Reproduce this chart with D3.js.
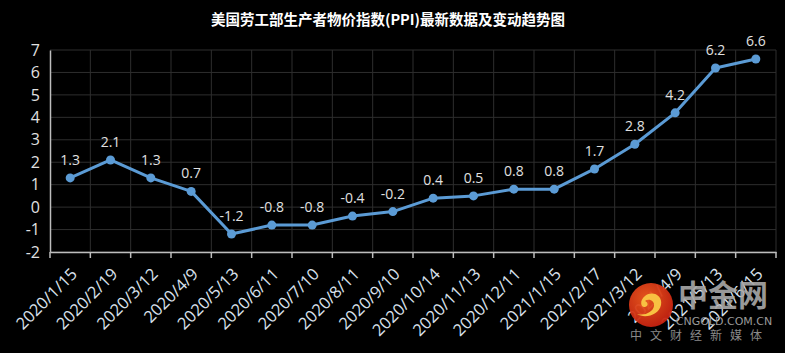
<!DOCTYPE html>
<html><head><meta charset="utf-8">
<script src="https://cdn.jsdelivr.net/npm/d3@7"></script>
<style>
html,body{margin:0;padding:0;background:#000;}
svg{display:block;}
</style></head>
<body>
<svg id="chart" width="785" height="353"></svg>
<script>
const title = "美国劳工部生产者物价指数(PPI)最新数据及变动趋势图";
const categories = ["2020/1/15","2020/2/19","2020/3/12","2020/4/9","2020/5/13","2020/6/11","2020/7/10","2020/8/11","2020/9/10","2020/10/14","2020/11/13","2020/12/11","2021/1/15","2021/2/17","2021/3/12","2021/4/9","2021/5/13","2021/6/15"];
const values = [1.3,2.1,1.3,0.7,-1.2,-0.8,-0.8,-0.4,-0.2,0.4,0.5,0.8,0.8,1.7,2.8,4.2,6.2,6.6];
const yTicks = [-2,-1,0,1,2,3,4,5,6,7];

const svg = d3.select("#chart");
svg.append("rect").attr("width",785).attr("height",353).attr("fill","#000");

const margin = {left:50, right:9, top:50, bottom:101};
const W = 785, H = 353;
const x = d3.scaleBand().domain(categories).range([margin.left, W - margin.right]).padding(0);
const y = d3.scaleLinear().domain([-2,7]).range([H - margin.bottom, margin.top]);

const font = "'Open Sans', 'Noto Sans', sans-serif";
const hy = s => String(s).replace("\u2212","-");

// title
svg.append("text").attr("x",388).attr("y",25).attr("text-anchor","middle")
  .attr("fill","#fff").attr("font-weight","bold").attr("font-size","14.5px")
  .attr("font-family","'Noto Sans CJK SC', sans-serif").text(title);

// grid
const g = svg.append("g");
g.selectAll(".hg").data(yTicks).enter().append("line")
  .attr("x1",margin.left).attr("x2",W-margin.right)
  .attr("y1",d=>y(d)).attr("y2",d=>y(d))
  .attr("stroke","#2e2e2e").attr("stroke-width",1);
const vb = categories.map(c=>x(c)).concat([x(categories[categories.length-1])+x.bandwidth()]);
g.selectAll(".vg").data(vb.slice(1)).enter().append("line")
  .attr("x1",d=>d).attr("x2",d=>d)
  .attr("y1",y(7)).attr("y2",y(-2))
  .attr("stroke","#2e2e2e").attr("stroke-width",1);

// y axis
const yAxis = svg.append("g").attr("transform",`translate(${margin.left},0)`)
  .call(d3.axisLeft(y).tickValues(yTicks).tickSize(0).tickPadding(10).tickFormat(d=>hy(d3.format("d")(d))));
yAxis.select(".domain").attr("stroke","#bdbdbd").attr("stroke-width",1.5);
yAxis.selectAll("text").attr("fill","#e0e0e0").attr("font-size","16px").attr("font-family",font);

// x axis
const xAxis = svg.append("g").attr("transform",`translate(0,${y(-2)})`)
  .call(d3.axisBottom(x).tickSize(0).tickFormat(""));
xAxis.select(".domain").attr("stroke","#bdbdbd").attr("stroke-width",1.5);
xAxis.selectAll(".tick").remove();
svg.append("g").selectAll("line").data(vb).enter().append("line")
  .attr("x1",d=>d).attr("x2",d=>d).attr("y1",y(-2)).attr("y2",y(-2)+6)
  .attr("stroke","#bdbdbd").attr("stroke-width",1.5);
svg.append("g").selectAll("text").data(categories).enter().append("text")
  .attr("transform",d=>`translate(${x(d)+x.bandwidth()/2+5},${y(-2)+20}) rotate(-45)`)
  .attr("text-anchor","end").attr("dominant-baseline","middle")
  .attr("fill","#d9e1ec").attr("font-size","16.5px").attr("font-family",font)
  .text(d=>d);

// line
const line = d3.line().x((d,i)=>x(categories[i])+x.bandwidth()/2).y(d=>y(d));
svg.append("path").datum(values).attr("d",line).attr("fill","none")
  .attr("stroke","#5b9bd5").attr("stroke-width",3).attr("stroke-linejoin","round");
svg.append("g").selectAll("circle").data(values).enter().append("circle")
  .attr("cx",(d,i)=>x(categories[i])+x.bandwidth()/2).attr("cy",d=>y(d)).attr("r",4.5)
  .attr("fill","#5b9bd5");
svg.append("g").selectAll("text").data(values).enter().append("text")
  .attr("x",(d,i)=>x(categories[i])+x.bandwidth()/2).attr("y",d=>y(d)-13)
  .attr("text-anchor","middle").attr("fill","#e0e0e0").attr("font-size","14px").attr("font-family",font)
  .text(d=>hy(d3.format(".1f")(d)));

// watermark
const wm = svg.append("g");
const grad = svg.append("defs").append("radialGradient").attr("id","lg").attr("cx","40%").attr("cy","35%").attr("r","70%");
grad.append("stop").attr("offset","0%").attr("stop-color","#f05a1e");
grad.append("stop").attr("offset","100%").attr("stop-color","#c41f10");
wm.append("circle").attr("cx",651).attr("cy",305).attr("r",22).attr("fill","url(#lg)").attr("opacity",0.95);
wm.append("path").attr("d","M645,296 c8,-6 18,0 16,9 c-2,10 -16,14 -24,9 c8,2 16,-2 17,-8 c1,-5 -5,-8 -9,-5 c3,1 4,5 0,6 c-4,1 -6,-6 0,-11 z")
  .attr("fill","#f8c142");
wm.append("text").attr("x",723).attr("y",306).attr("text-anchor","middle")
  .attr("fill","#a9a9a9").attr("font-size","30px").attr("font-weight","bold")
  .attr("font-family","'Noto Sans CJK SC', sans-serif").attr("opacity",0.9).text("中金网");
wm.append("text").attr("x",724).attr("y",325).attr("text-anchor","middle")
  .attr("fill","#9a9a9a").attr("font-size","11px").attr("font-family","'DejaVu Sans', sans-serif").text("CNGOLD.COM.CN");
wm.append("text").attr("x",700).attr("y",340).attr("text-anchor","middle")
  .attr("fill","#8a8a8a").attr("font-size","12px").attr("letter-spacing","8px")
  .attr("font-family","'Noto Sans CJK SC', sans-serif").text("中文财经新媒体");
</script>
</body></html>
